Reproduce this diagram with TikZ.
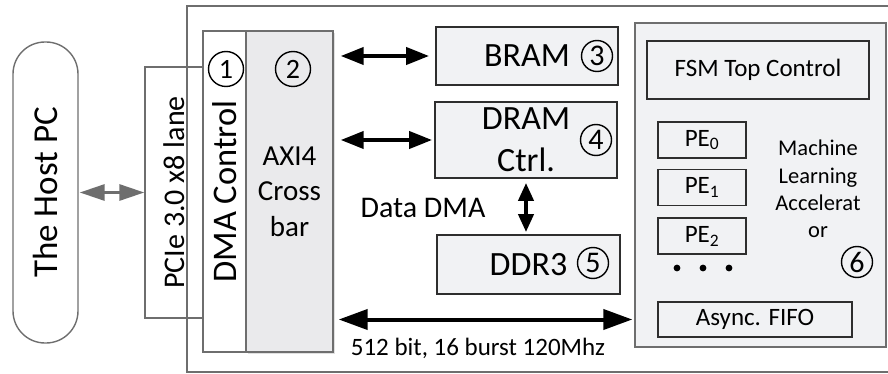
\documentclass[tikz,border=0pt]{standalone}
\usepackage{fontspec}
\setmainfont{Carlito}
\usepackage{tikz}
\usetikzlibrary{arrows.meta,positioning,shadows}
\usepackage{xcolor}
\definecolor{boxfill}{HTML}{F1F2F4}
\definecolor{xbarfill}{HTML}{EAEAEC}
\definecolor{edgegray}{HTML}{6E6E6E}
\definecolor{darkedge}{HTML}{2E2E2E}
\newcommand{\fsz}[2]{\fontsize{#1}{#2}\selectfont}

\begin{document}
\begin{tikzpicture}[x=1pt, y=-1pt,
  outer/.style={draw=edgegray, line width=1.4pt},
  gbox/.style={draw=edgegray, line width=1.4pt, inner sep=0pt, align=center},
  mem/.style={draw=darkedge, fill=boxfill, line width=1.8pt, inner sep=0pt, align=center, font=\fsz{34}{42}},
  sub/.style={draw=darkedge, line width=1.6pt, inner sep=0pt, align=center},
  num/.style={circle, draw=black, line width=1.4pt, inner sep=0pt},
  bus/.style={{Triangle[length=23pt,width=17pt]}-{Triangle[length=23pt,width=17pt]}, line width=4pt},
  bigbus/.style={{Triangle[length=29pt,width=20pt]}-{Triangle[length=29pt,width=20pt]}, line width=4pt},
  vbus/.style={{Triangle[length=18pt,width=15pt]}-{Triangle[length=18pt,width=15pt]}, line width=4pt},
  hostbus/.style={{Triangle[length=25pt,width=16pt]}-{Triangle[length=25pt,width=16pt]}, line width=3pt, draw=edgegray, fill=edgegray}
]
\useasboundingbox (0,0) rectangle (888,374);

% FPGA board outline
\draw[outer] (187,6) rectangle (896,372);

% host side
\node[gbox, rounded corners=32pt, rotate=90, minimum width=301pt, minimum height=65pt, font=\fsz{35}{40}] (host) at (45.5,192.5) {The Host PC};
\node[gbox, rotate=90, minimum width=251pt, minimum height=58pt, font=\fsz{30}{36}] (pcie) at (174,192.5) {PCIe 3.0 x8 lane};
\node[gbox, fill=white, rotate=90, minimum width=321pt, minimum height=43pt, font=\fsz{34.5}{40}] (dma) at (224.5,191.5) {DMA Control};
\node[gbox, fill=xbarfill, minimum width=87pt, minimum height=321pt, font=\fsz{29}{35.5},
  drop shadow={shadow xshift=2pt, shadow yshift=-2pt, fill=black!20, opacity=0.6}] (xbar) at (289.5,191.5) {AXI4\\Cross\\bar};
\node[num, minimum size=35pt, font=\fsz{28}{28}] (n1) at (226,69) {1};
\node[num, minimum size=35pt, font=\fsz{28}{28}] (n2) at (293,69) {2};

% memories
\node[mem, minimum width=182pt, minimum height=58pt] (bram) at (527,56) {BRAM};
\node[mem, minimum width=182pt, minimum height=76pt] (dram) at (526,140) {DRAM\\Ctrl.};
\node[mem, minimum width=183pt, minimum height=59pt] (ddr) at (528.5,264.5) {DDR3};
\node[num, minimum size=31pt, font=\fsz{30}{30}] (n3) at (597,56) {3};
\node[num, minimum size=31pt, font=\fsz{30}{30}] (n4) at (596,140) {4};
\node[num, minimum size=31pt, font=\fsz{30}{30}] (n5) at (593,263) {5};

% accelerator
\node[gbox, fill=boxfill, minimum width=251pt, minimum height=324pt] (mla) at (760.5,185) {};
\node[sub, minimum width=222pt, minimum height=58pt, font=\fsz{25}{30}] (fsm) at (758,70) {FSM Top Control};
\node[sub, minimum width=88pt, minimum height=36pt, font=\fsz{25}{28}] (pe0) at (702,140) {PE\textsubscript{0}};
\node[sub, minimum width=88pt, minimum height=36pt, font=\fsz{25}{28}, below=10pt of pe0] (pe1) {PE\textsubscript{1}};
\node[sub, minimum width=88pt, minimum height=36pt, font=\fsz{25}{28}, below=11pt of pe1] (pe2) {PE\textsubscript{2}};
\foreach \x in {677,703,729}
  \fill (\x,268) circle (3.4pt);
\node[align=center, font=\fsz{22.5}{27.3}] (mlatext) at (818,189) {Machine\\Learning\\Accelerat\\or};
\node[num, minimum size=31pt, font=\fsz{30}{30}] (n6) at (857,262) {6};
\node[sub, minimum width=194pt, minimum height=35pt, font=\fsz{25}{30}] (fifo) at (755,319.5) {Async. FIFO};

% connections
\draw[hostbus, shorten <=1pt] (host.south) -- (pcie.north);
\draw[bus, shorten <=7pt, shorten >=6pt] (xbar.east |- bram.west) -- (bram.west);
\draw[bus, shorten <=7pt, shorten >=2pt] (xbar.east |- dram.west) -- (dram.west);
\draw[vbus, shorten <=4pt, shorten >=2pt] (dram.south) -- (dram.south |- ddr.north);
\draw[bigbus, shorten <=5pt, shorten >=2pt] (xbar.east |- fifo) -- (mla.west |- fifo);

\node[font=\fsz{30}{36}] (dmalbl) at (423,208) {Data DMA};
\node[font=\fsz{25}{30}] (buslbl) at (478,348) {512 bit, 16 burst 120Mhz};
\end{tikzpicture}
\end{document}
